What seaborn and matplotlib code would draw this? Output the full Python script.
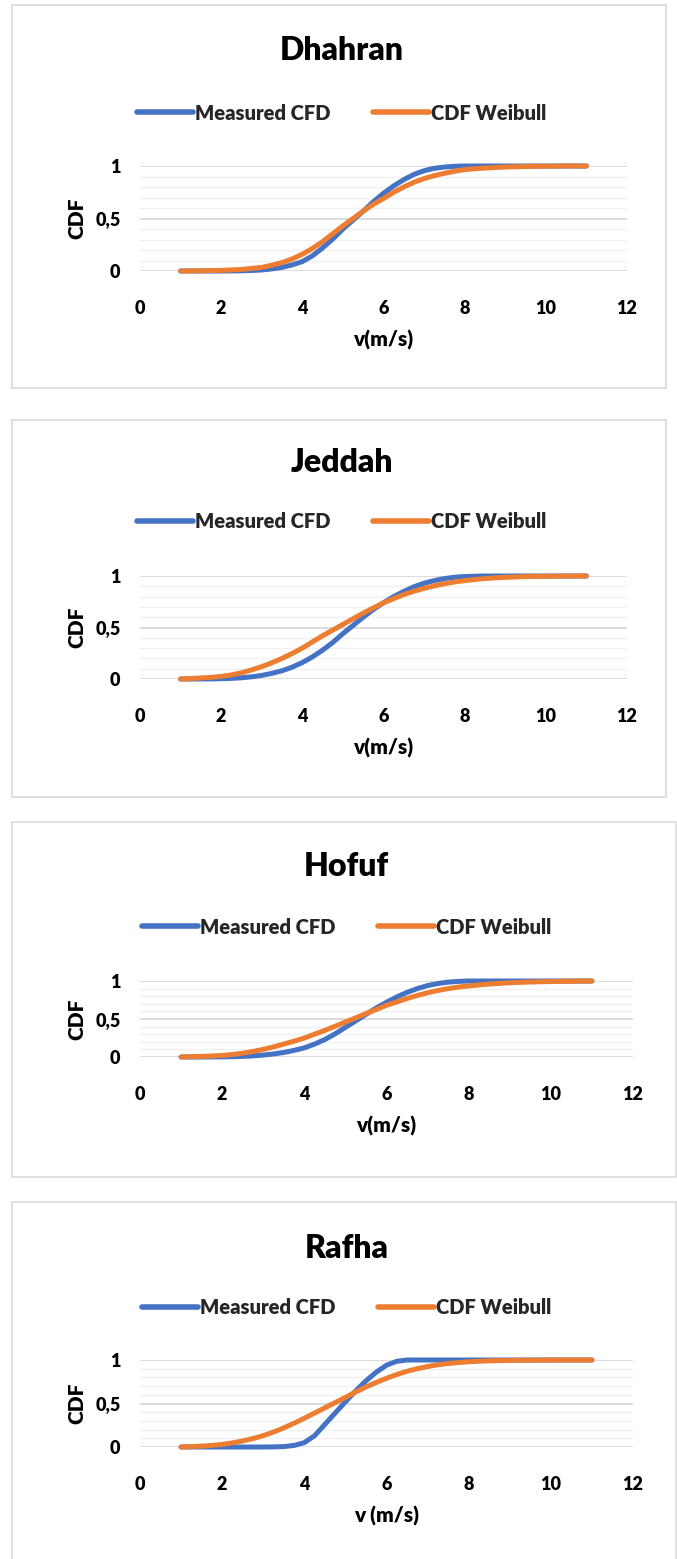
import numpy as np
import pandas as pd
import matplotlib
matplotlib.use("Agg")
import matplotlib.pyplot as plt
import matplotlib.patches as mpatches
from matplotlib.ticker import MultipleLocator
import seaborn as sns

sns.set_theme(style="white")
plt.rcParams['font.family'] = ['Lato', 'DejaVu Sans']
WEIGHT = 'heavy'

# ---------------- data ----------------
v = [1, 1.25, 1.5, 1.75, 2, 2.25, 2.5, 2.75, 3, 3.25, 3.5, 3.75, 4, 4.25, 4.5, 4.75,
     5, 5.25, 5.5, 5.75, 6, 6.25, 6.5, 6.75, 7, 7.25, 7.5, 7.75, 8, 8.25, 8.5, 8.75,
     9, 9.25, 9.5, 9.75, 10, 10.25, 10.5, 10.75, 11]

stations = ["Dhahran", "Jeddah", "Hofuf", "Rafha"]
xlabels = ["v(m/s)", "v(m/s)", "v(m/s)", "v (m/s)"]
series_names = ["Measured CFD", "CDF Weibull"]

dhahran_measured = [0, 0, 0, 0,
                    0, 0.001, 0.002, 0.005,
                    0.01, 0.02, 0.035, 0.058,
                    0.09, 0.145, 0.22, 0.305,
                    0.40, 0.485, 0.57, 0.66,
                    0.74, 0.81, 0.87, 0.92,
                    0.955, 0.978, 0.99, 0.997,
                    1, 1, 1, 1,
                    1, 1, 1, 1,
                    1, 1, 1, 1,
                    1]
dhahran_weibull = [0, 0.001, 0.002, 0.004,
                   0.006, 0.01, 0.015, 0.024,
                   0.035, 0.055, 0.08, 0.115,
                   0.16, 0.215, 0.28, 0.355,
                   0.43, 0.50, 0.57, 0.635,
                   0.69, 0.75, 0.80, 0.845,
                   0.88, 0.908, 0.93, 0.95,
                   0.965, 0.974, 0.98, 0.986,
                   0.99, 0.993, 0.995, 0.997,
                   0.998, 0.999, 1, 1,
                   1]

jeddah_measured = [0, 0, 0, 0.001,
                   0.003, 0.006, 0.012, 0.021,
                   0.035, 0.055, 0.08, 0.115,
                   0.16, 0.215, 0.28, 0.355,
                   0.44, 0.52, 0.60, 0.675,
                   0.74, 0.80, 0.85, 0.895,
                   0.93, 0.955, 0.975, 0.988,
                   0.995, 0.998, 1, 1,
                   1, 1, 1, 1,
                   1, 1, 1, 1,
                   1]
jeddah_weibull = [0, 0.005, 0.01, 0.016,
                  0.025, 0.04, 0.06, 0.088,
                  0.12, 0.158, 0.20, 0.248,
                  0.30, 0.36, 0.42, 0.475,
                  0.53, 0.585, 0.64, 0.69,
                  0.74, 0.78, 0.82, 0.852,
                  0.88, 0.904, 0.925, 0.942,
                  0.955, 0.966, 0.975, 0.982,
                  0.987, 0.991, 0.994, 0.996,
                  0.997, 0.998, 0.999, 1,
                  1]

hofuf_measured = [0, 0, 0, 0.001,
                  0.002, 0.004, 0.008, 0.015,
                  0.025, 0.04, 0.06, 0.087,
                  0.12, 0.17, 0.23, 0.305,
                  0.39, 0.475, 0.56, 0.645,
                  0.72, 0.79, 0.85, 0.90,
                  0.94, 0.967, 0.985, 0.995,
                  1, 1, 1, 1,
                  1, 1, 1, 1,
                  1, 1, 1, 1,
                  1]
hofuf_weibull = [0, 0.004, 0.008, 0.013,
                 0.02, 0.033, 0.05, 0.073,
                 0.10, 0.133, 0.17, 0.208,
                 0.25, 0.30, 0.35, 0.405,
                 0.46, 0.515, 0.57, 0.625,
                 0.68, 0.725, 0.77, 0.81,
                 0.845, 0.875, 0.90, 0.92,
                 0.935, 0.948, 0.96, 0.969,
                 0.977, 0.982, 0.987, 0.99,
                 0.993, 0.995, 0.997, 0.999,
                 1]

rafha_measured = [0, 0, 0, 0,
                  0, 0, 0, 0,
                  0, 0.001, 0.005, 0.018,
                  0.05, 0.13, 0.26, 0.39,
                  0.52, 0.645, 0.76, 0.86,
                  0.94, 0.985, 1, 1,
                  1, 1, 1, 1,
                  1, 1, 1, 1,
                  1, 1, 1, 1,
                  1, 1, 1, 1,
                  1]
rafha_weibull = [0, 0.005, 0.01, 0.018,
                 0.03, 0.047, 0.07, 0.097,
                 0.13, 0.172, 0.22, 0.273,
                 0.33, 0.39, 0.45, 0.51,
                 0.57, 0.632, 0.69, 0.742,
                 0.79, 0.833, 0.87, 0.90,
                 0.925, 0.945, 0.96, 0.971,
                 0.98, 0.986, 0.99, 0.993,
                 0.995, 0.997, 0.998, 0.999,
                 1, 1, 1, 1,
                 1]

measured = [dhahran_measured, jeddah_measured, hofuf_measured, rafha_measured]
weibull = [dhahran_weibull, jeddah_weibull, hofuf_weibull, rafha_weibull]

# ---------------- layout (pixels) ----------------
W, H = 677, 1559
BLUE = "#4472C4"
ORANGE = "#ED7D31"

# box (l, t, r, b), axes (l, t, r, b), title y, legend y
panels = [
    dict(box=(12, 5, 666, 388), ax=(140, 166, 627, 271), ty=50, ly=113),
    dict(box=(12, 420, 666, 797), ax=(140, 576, 627, 679), ty=462, ly=522),
    dict(box=(12, 822, 676, 1177), ax=(140, 981, 633, 1057), ty=866, ly=927),
    dict(box=(12, 1202, 676, 1560), ax=(140, 1360, 633, 1447), ty=1248, ly=1308),
]

fig = plt.figure(figsize=(W / 100, H / 100), dpi=100)


def frac_rect(l, t, r, b):
    return [l / W, 1 - b / H, (r - l) / W, (b - t) / H]


for i, p in enumerate(panels):
    bl, bt, br, bb = p["box"]
    rect = mpatches.Rectangle((bl / W, 1 - bb / H), (br - bl) / W, (bb - bt) / H,
                              transform=fig.transFigure, fill=False,
                              edgecolor="#D9D9D9", lw=1.2, zorder=0)
    fig.patches.append(rect)

    ax = fig.add_axes(frac_rect(*p["ax"]))
    df = pd.DataFrame({
        "v": v * 2,
        "cdf": measured[i] + weibull[i],
        "series": [series_names[0]] * len(v) + [series_names[1]] * len(v),
    })
    sns.lineplot(data=df, x="v", y="cdf", hue="series", hue_order=series_names,
                 palette=[BLUE, ORANGE], linewidth=3.6, ax=ax, legend=True,
                 solid_capstyle="round", solid_joinstyle="round", zorder=3)

    ax.set_xlim(0, 12)
    ax.set_ylim(0, 1)
    ax.set_xticks([0, 2, 4, 6, 8, 10, 12])
    ax.set_yticks([0, 0.5, 1], labels=["0", "0,5", "1"])
    ax.yaxis.set_minor_locator(MultipleLocator(0.1))
    ax.grid(which="major", axis="y", color="#D9D9D9", lw=1.3, zorder=0)
    ax.grid(which="minor", axis="y", color="#F0F0F0", lw=1.0, zorder=0)
    ax.grid(which="major", axis="x", visible=False)
    for s in ax.spines.values():
        s.set_visible(False)
    ax.tick_params(axis="both", which="both", length=0, labelsize=13,
                   labelcolor="black")
    ax.tick_params(axis="x", pad=21)
    ax.tick_params(axis="y", pad=14)
    for lab in ax.get_xticklabels() + ax.get_yticklabels():
        lab.set_fontweight(WEIGHT)
    ax.set_xlabel(xlabels[i], fontsize=15, fontweight=WEIGHT, color="black", labelpad=9)
    ax.set_ylabel("CDF", fontsize=15, fontweight=WEIGHT, color="black", labelpad=6)
    for ln in ax.lines:
        ln.set_clip_on(False)

    handles, labels = ax.get_legend_handles_labels()
    leg = ax.legend(handles, labels, loc="center",
                    bbox_to_anchor=(0.5 * (bl + br) / W + 0.004, 1 - p["ly"] / H),
                    bbox_transform=fig.transFigure, ncol=2, frameon=False,
                    handlelength=2.8, handletextpad=0.1, columnspacing=2.1,
                    prop={"weight": WEIGHT, "size": 14.5})
    for hl in leg.get_lines():
        hl.set_linewidth(4.0)
        hl.set_solid_capstyle("round")

    fig.text(0.5 * (bl + br) / W + 0.004, 1 - p["ty"] / H, stations[i],
             ha="center", va="center", fontsize=23, fontweight=WEIGHT,
             color="black")

fig.savefig("out.png", dpi=100)
